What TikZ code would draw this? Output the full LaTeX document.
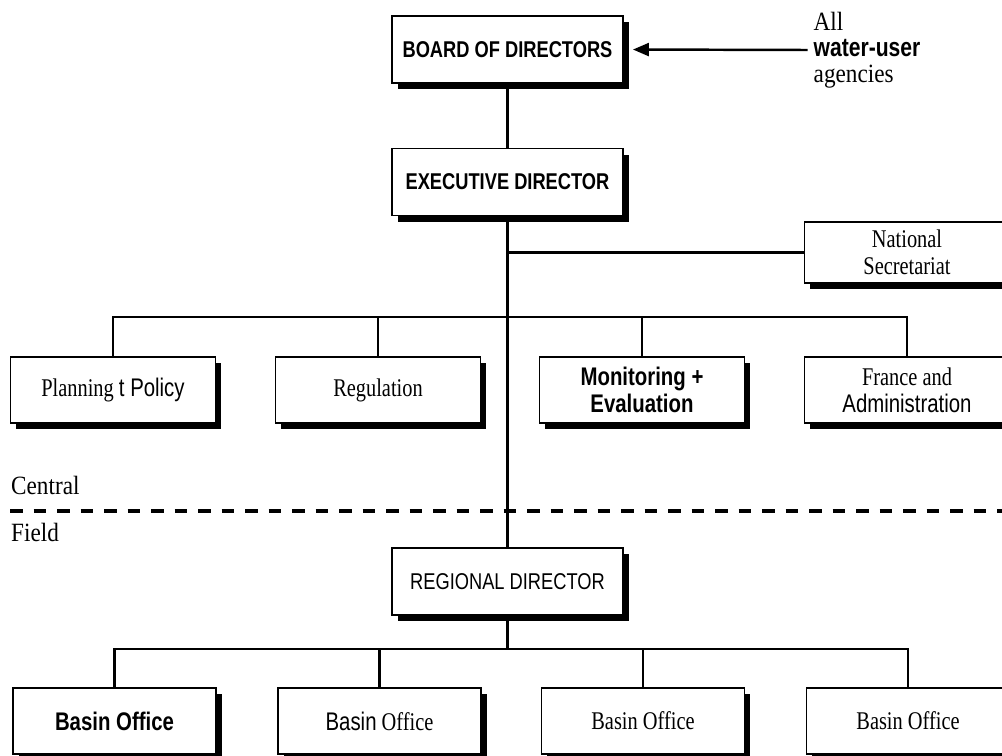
\documentclass[tikz,border=0pt]{standalone}
\usepackage{fontspec}
\setmainfont{Liberation Serif}
\newfontfamily\orgsans[FakeStretch=0.8]{Liberation Sans}
\newfontfamily\orgserif[FakeStretch=0.8]{Liberation Serif}
\newfontfamily\sideserif[FakeStretch=0.88]{Liberation Serif}
\usepackage{tikz}
\usetikzlibrary{arrows.meta,shadows,positioning}
\tikzstyle{orgbox} = [rectangle, draw=black, line width=1.1pt, fill=white, minimum width=4.1cm, minimum height=1.32cm, text centered, align=center, font=\fontsize{14.5}{15.5}\selectfont\orgserif, drop shadow={shadow xshift=0.11cm, shadow yshift=-0.12cm, fill=black, opacity=1}]
\tikzstyle{topbox} = [orgbox, minimum width=4.62cm, minimum height=1.34cm, font=\fontsize{13}{15}\selectfont\orgsans\bfseries]
\tikzstyle{link} = [line width=1.4pt]
\tikzstyle{arrow} = [line width=1.4pt, -{Triangle[length=0.32cm, width=0.26cm]}]
\tikzstyle{divider} = [line width=2.2pt, dash pattern=on 0.25cm off 0.22cm]
\tikzstyle{side} = [font=\fontsize{15}{14.7}\selectfont\sideserif, anchor=west, align=left]

\begin{document}
\begin{tikzpicture}
\useasboundingbox (0,0) rectangle (20.04,-15.1);

% Top of the chart
\node[topbox] (board) at (10.15,-0.99) {BOARD OF DIRECTORS};
\node[topbox] (exec) at (10.15,-3.64) {EXECUTIVE DIRECTOR};
\node[side] (agencies) at (16.15,-1.0) {All\\{\orgsans\bfseries water-user}\\agencies};
\node[orgbox, minimum height=1.22cm] (natsec) at (18.14,-5.05) {National\\Secretariat};

% Central units
\node[orgbox] (plan) at (2.26,-7.8) {Planning {\orgsans t Policy}};
\node[orgbox] (reg) at (7.56,-7.8) {Regulation};
\node[orgbox] (mon) at (12.84,-7.8) {\orgsans\bfseries Monitoring +\\\orgsans\bfseries Evaluation};
\node[orgbox] (fin) at (18.14,-7.8) {France and\\{\orgsans Administration}};
\coordinate (hub) at (10.15,-6.34);

% Central / Field
\node[side] (central) at (0.1,-9.7) {Central};
\node[side] (field) at (0.1,-10.64) {Field};
\draw[divider] (0.2,-10.22) -- (20.04,-10.22);

% Field units
\node[topbox, font=\fontsize{13}{15}\selectfont\orgsans] (regional) at (10.15,-11.63) {REGIONAL DIRECTOR};
\node[orgbox, minimum width=4.06cm] (basin1) at (2.29,-14.42) {\orgsans\bfseries Basin Office};
\node[orgbox, minimum width=4.06cm] (basin2) at (7.59,-14.42) {{\orgsans Basin} Office};
\node[orgbox, minimum width=4.06cm] (basin3) at (12.86,-14.42) {Basin Office};
\node[orgbox, minimum width=4.06cm] (basin4) at (18.16,-14.42) {Basin Office};
\coordinate (bhub) at (10.15,-12.98);

% Connectors
\draw[arrow, shorten >=0.18cm] (agencies.west) -- (board.east);
\draw[link] (board) -- (exec);
\draw[link] (exec.south) -- (regional.north);
\draw[link] (exec.south |- natsec.west) -- (natsec.west);
\draw[link] (plan.north) |- (hub) -| (fin.north);
\draw[link] (reg.north) -- (reg.north |- hub);
\draw[link] (mon.north) -- (mon.north |- hub);
\draw[link] (regional.south) -- (bhub);
\draw[link] (basin1.north) |- (bhub) -| (basin4.north);
\draw[link] (basin2.north) -- (basin2.north |- bhub);
\draw[link] (basin3.north) -- (basin3.north |- bhub);
\end{tikzpicture}
\end{document}
